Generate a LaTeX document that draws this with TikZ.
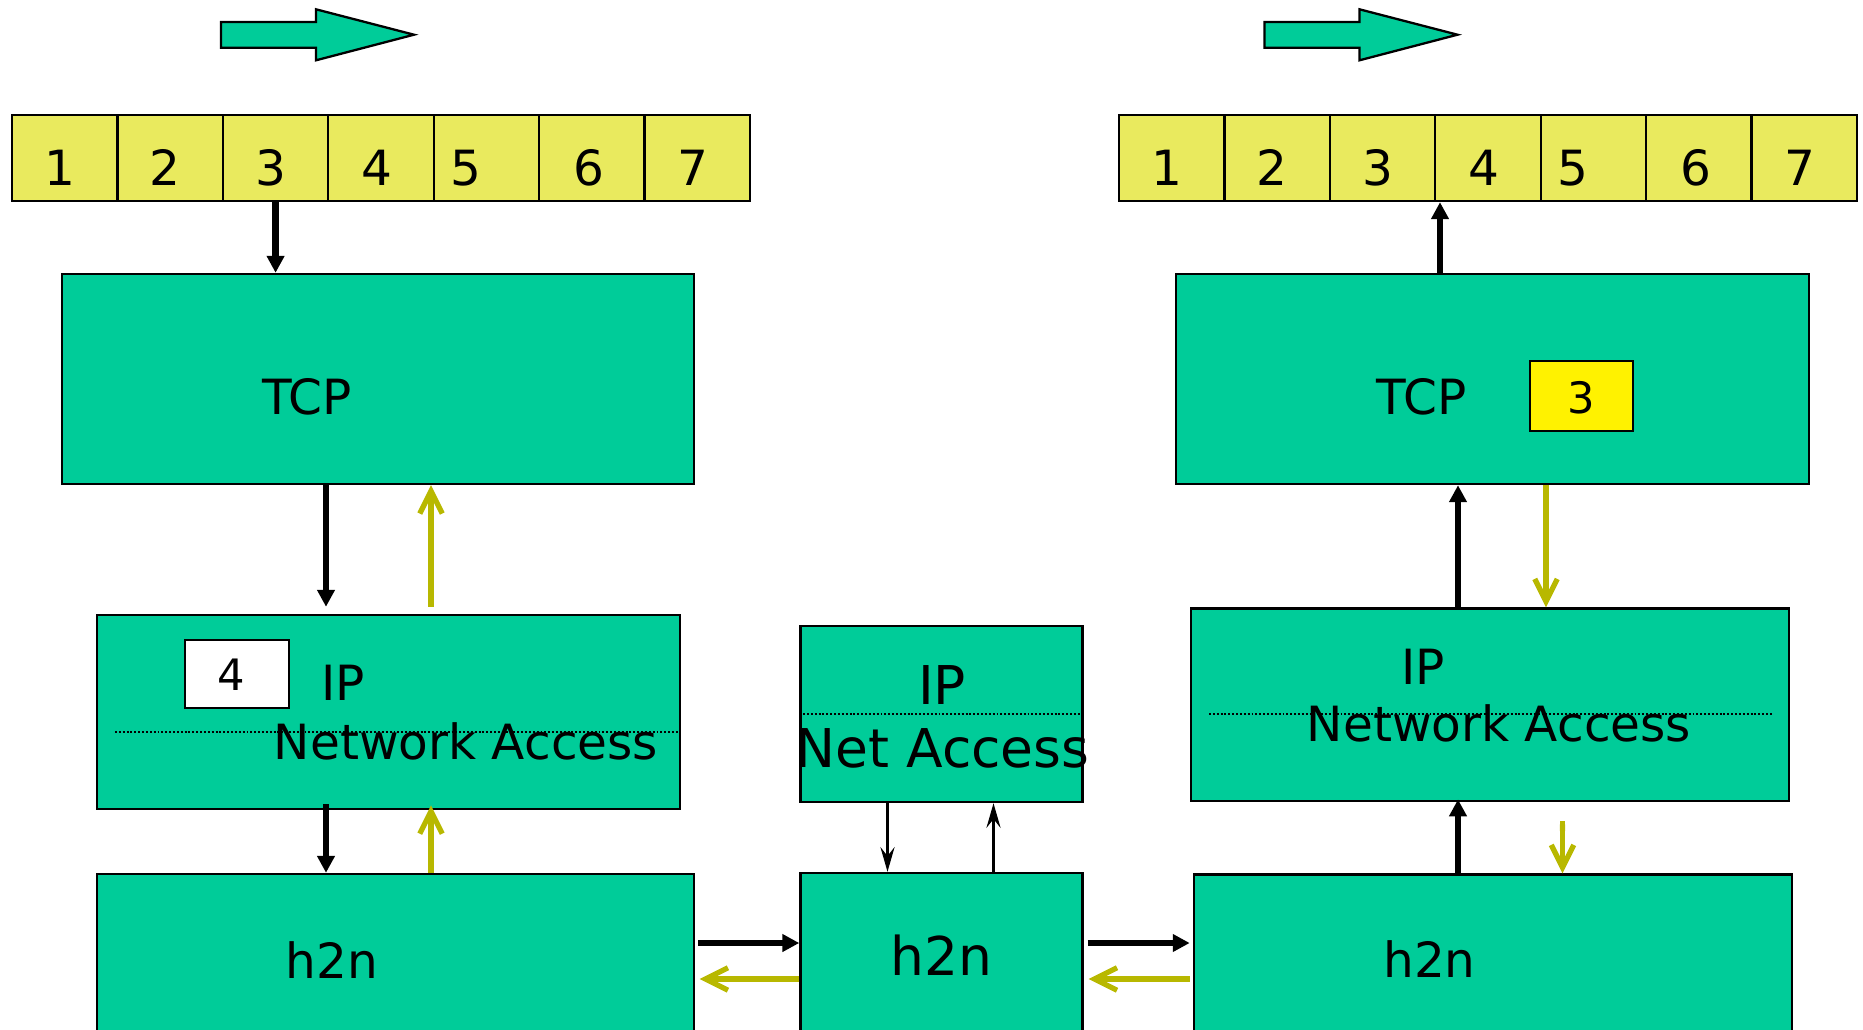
\documentclass[tikz,border=0pt]{standalone}
\usepackage{fontspec}
\setmainfont{DejaVu Sans}
\usetikzlibrary{arrows.meta,calc}

\definecolor{layergreen}{HTML}{00CC99}
\definecolor{tapeyellow}{HTML}{E9EA5E}
\definecolor{ackolive}{HTML}{B8B800}

\tikzset{
	layerbox/.style={draw, fill=layergreen, line width=0.65pt, inner sep=0pt},
	tapecell/.style={draw, fill=tapeyellow, line width=0.65pt, minimum width=1.0543cm, minimum height=0.86cm, inner sep=0pt},
	badge/.style={draw, line width=0.65pt, inner sep=0pt},
	txt/.style={anchor=base, inner sep=0pt, font=\fontsize{13.8}{16}\selectfont},
	bigtxt/.style={anchor=base, inner sep=0pt, font=\fontsize{15.2}{18}\selectfont},
	smalltxt/.style={anchor=base, inner sep=0pt, font=\fontsize{12.3}{14}\selectfont},
	fwd/.style={draw=black, line width=1.8pt, -{Triangle[length=4.8pt,width=4.8pt]}},
	ack/.style={draw=ackolive, line width=1.5pt, -{Butt Cap[sep=3.2pt] Straight Barb[length=6.4pt,width=6.4pt,sep=0pt]}},
	slim/.style={draw=black, line width=0.8pt, -{Stealth[length=7pt,width=4pt,inset=2.5pt]}},
	dirarrow/.style={draw, fill=layergreen, line width=0.65pt},
	divider/.style={line width=0.6pt, dash pattern=on 0.55pt off 0.55pt},
}

\begin{document}
\begin{tikzpicture}[x=0.01cm, y=-0.01cm]

	\useasboundingbox (0,0) rectangle (1863,1030);
	\clip (0,0) rectangle (1863,1030);

	% direction of the stream
	\foreach \x in {221,1264.5} {
		\draw[dirarrow] (\x,22) -- ++(95,0) -- ++(0,-12.7) -- ++(98,25.4) -- ++(-98,25.6) -- ++(0,-12.6) -- ++(-95,0) -- cycle;
	}

	% byte streams
	\foreach \i/\dx in {1/-5,2/-5,3/-5,4/-4,5/-21,6/-3,7/-4} {
		\node[tapecell] (L\i) at ({12+105.43*(\i-0.5)},158) {};
		\node[txt] (Lt\i) at ($(L\i.south)+(\dx,-17)$) {\i};
		\node[tapecell] (R\i) at ({1119+105.43*(\i-0.5)},158) {};
		\node[txt] (Rt\i) at ($(R\i.south)+(\dx,-17)$) {\i};
	}

	% sender
	\node[layerbox, minimum width=6.32cm, minimum height=2.10cm] (tcpL) at (378,379) {};
	\node[layerbox, minimum width=5.83cm, minimum height=1.94cm] (ipL) at (388.5,712) {};
	\node[layerbox, minimum width=5.97cm, minimum height=1.70cm] (h2nL) at (395.5,959) {};

	% router
	\node[layerbox, minimum width=2.82cm, minimum height=1.76cm] (ipM) at (941.5,714) {};
	\node[layerbox, minimum width=2.82cm, minimum height=1.70cm] (h2nM) at (941.5,958) {};

	% receiver
	\node[layerbox, minimum width=6.33cm, minimum height=2.10cm] (tcpR) at (1492.5,379) {};
	\node[layerbox, minimum width=5.98cm, minimum height=1.925cm] (ipR) at (1490,704.75) {};
	\node[layerbox, minimum width=5.98cm, minimum height=1.70cm] (h2nR) at (1493,959.5) {};

	% layer separators
	\draw[divider] (115,732) -- (ipL.east |- 0,732);
	\draw[divider] (ipM.west |- 0,714) -- (1080,714);
	\draw[divider] (1209,714) -- (1773,714);

	% segments held in the stacks
	\node[badge, fill=white, minimum width=1.04cm, minimum height=0.68cm] (segL) at (237,674) {};
	\node[smalltxt] (segLt) at (231,690.7) {4};
	\node[badge, fill=yellow, minimum width=1.03cm, minimum height=0.70cm] (segR) at (1581.5,396) {};
	\node[smalltxt] (segRt) at (1581,413) {3};

	% layer names
	\node[txt] (tcpLt) at (307,414.6) {TCP};
	\node[txt] (tcpRt) at (1421.5,414) {TCP};
	\node[txt] (ipLt) at (343,700.7) {IP};
	\node[txt] (naLt) at (466,759.3) {Network Access};
	\node[bigtxt] (ipMt) at (942,704) {IP};
	\node[bigtxt] (naMt) at (942.5,767.7) {Net Access};
	\node[txt] (ipRt) at (1423,684) {IP};
	\node[txt] (naRt) at (1499,741.5) {Network Access};
	\node[txt] (h2nLt) at (332,978) {h2n};
	\node[bigtxt] (h2nMt) at (941,975) {h2n};
	\node[txt] (h2nRt) at (1429.5,977.8) {h2n};

	% arrow columns and rows
	\coordinate (sx1) at (326,0);
	\coordinate (sx2) at (431,0);
	\coordinate (mx1) at (887.5,0);
	\coordinate (mx2) at (993.5,0);
	\coordinate (rx0) at (1440,0);
	\coordinate (rx1) at (1458,0);
	\coordinate (rx2) at (1546,0);
	\coordinate (rx3) at (1562.5,0);
	\coordinate (fy) at (0,943);
	\coordinate (ay) at (0,979);

	% sender side
	\draw[fwd] (L3.south) -- (L3.south |- tcpL.north);
	\draw[fwd, shorten >=2pt] (tcpL.south -| sx1) -- (ipL.north -| sx1);
	\draw[ack, shorten <=2pt] (ipL.north -| sx2) -- (tcpL.south -| sx2);
	\draw[fwd, shorten <=-1.7pt] (ipL.south -| sx1) -- (h2nL.north -| sx1);
	\draw[ack, shorten >=-1.4pt] (h2nL.north -| sx2) -- (ipL.south -| sx2);

	% links
	\draw[fwd, shorten <=0.85pt] (h2nL.east |- fy) -- (h2nM.west |- fy);
	\draw[ack, shorten >=1.2pt] (h2nM.west |- ay) -- (h2nL.east |- ay);
	\draw[fwd, shorten <=1.1pt, shorten >=0.85pt] (h2nM.east |- fy) -- (h2nR.west |- fy);
	\draw[ack, shorten <=0.85pt, shorten >=1.4pt] (h2nR.west |- ay) -- (h2nM.east |- ay);

	% router
	\draw[slim] (ipM.south -| mx1) -- (h2nM.north -| mx1);
	\draw[slim] (h2nM.north -| mx2) -- (ipM.south -| mx2);

	% receiver side
	\draw[fwd, shorten >=-0.8pt] (h2nR.north -| rx1) -- (ipR.south -| rx1);
	\draw[ack, shorten <=5.4pt] (ipR.south -| rx3) -- (h2nR.north -| rx3);
	\draw[fwd] (ipR.north -| rx1) -- (tcpR.south -| rx1);
	\draw[ack] (tcpR.south -| rx2) -- (ipR.north -| rx2);
	\draw[fwd] (tcpR.north -| rx0) -- (R4.south west -| rx0);

\end{tikzpicture}
\end{document}
